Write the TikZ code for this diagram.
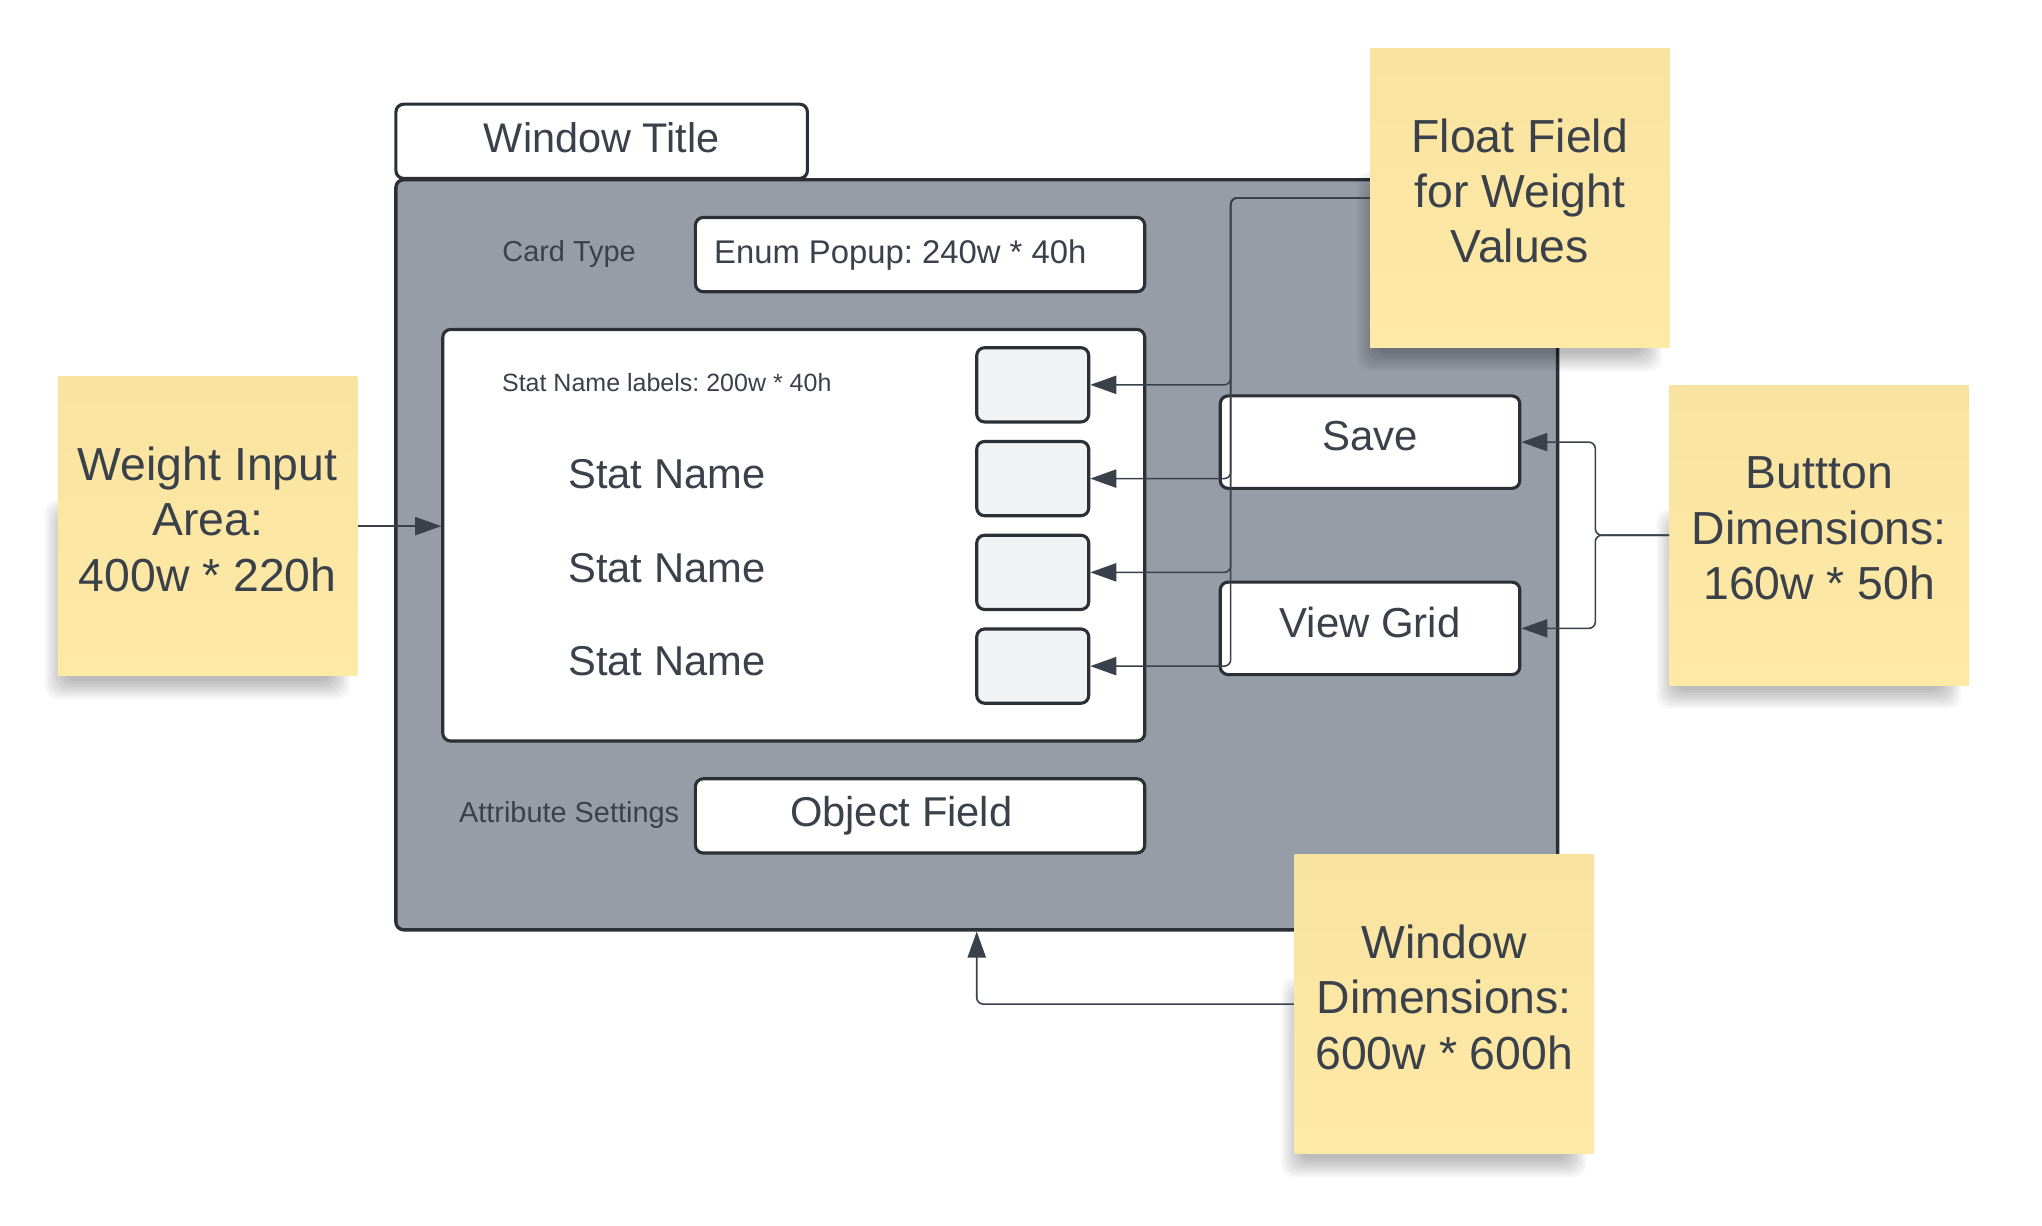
\documentclass[tikz,border=0pt]{standalone}
\usepackage{fontspec}
\setmainfont{Liberation Sans}
\usetikzlibrary{arrows.meta}
\definecolor{ink}{HTML}{3A414A}
\definecolor{edge}{HTML}{2B2F36}
\definecolor{winfill}{HTML}{979DA7}
\definecolor{fieldfill}{HTML}{F1F2F4}
\definecolor{notetop}{HTML}{F8E3A0}
\definecolor{notebot}{HTML}{FEEAA6}
\begin{document}
\frenchspacing
\begin{tikzpicture}[x=0.5pt,y=-0.5pt,
  box/.style={draw=edge, line width=1.2pt, rounded corners=3pt, fill=white, inner sep=0pt},
  fieldbox/.style={box, fill=fieldfill, minimum width=43pt, minimum height=28.5pt},
  btn/.style={box, minimum width=115pt, minimum height=35.5pt, text=ink, text depth=4.5pt, font=\fontsize{16.1pt}{18pt}\selectfont},
  note/.style={minimum width=115pt, minimum height=115pt, top color=notetop, bottom color=notebot, align=center, text=ink, inner sep=0pt, text depth=5.5pt, font=\fontsize{17.8pt}{21.25pt}\selectfont},
  lbl/.style={text=ink, inner sep=0pt},
  big/.style={font=\fontsize{16pt}{18pt}\selectfont},
  small/.style={font=\fontsize{11.1pt}{13pt}\selectfont},
  conn/.style={draw=ink, line width=0.6pt, rounded corners=2.5pt, -{Triangle[length=10pt,width=7pt]}},
  shadowlayer/.style={fill=black, opacity=0.035, rounded corners=5pt},
]
\fill[white] (0,0) rectangle (1568,941);
\useasboundingbox (0,0) rectangle (1568,941);

% main window
\node[draw=edge, line width=1.3pt, fill=winfill, rounded corners=3pt, minimum width=446pt, minimum height=288pt, inner sep=0pt] (window) at (750,426) {};
\node[box, minimum width=158pt, minimum height=28.5pt, text=ink, text depth=3pt, font=\fontsize{15.9pt}{18pt}\selectfont] (title) at (462,108.5) {Window Title};

% card type row
\node[lbl, small] (cardtype) at (437,195) {Card Type};
\node[box, minimum width=172.5pt, minimum height=28.5pt] (enum) at (706.5,195.5) {};
\node[lbl, anchor=west, font=\fontsize{12.6pt}{14pt}\selectfont] (enumtext) at (548,196) {Enum Popup: 240w * 40h};

% weight input area
\node[box, minimum width=269.5pt, minimum height=158pt] (inner) at (609.5,411) {};
\node[lbl, font=\fontsize{9.6pt}{11pt}\selectfont] (statlbl) at (512,294) {Stat Name labels: 200w * 40h};
\node[lbl, big] (stat1) at (512,364) {Stat Name};
\node[lbl, big] (stat2) at (512,436) {Stat Name};
\node[lbl, big] (stat3) at (512,508) {Stat Name};
\node[fieldbox] (f1) at (793,295.5) {};
\node[fieldbox] (f2) at (793,367.5) {};
\node[fieldbox] (f3) at (793,439.5) {};
\node[fieldbox] (f4) at (793,511.5) {};

% buttons
\node[btn] (save) at (1052,339.5) {Save};
\node[btn] (viewgrid) at (1052,482.5) {View Grid};

% attribute row
\node[lbl, small] (attr) at (437,626) {Attribute Settings};
\node[box, minimum width=172.5pt, minimum height=28.5pt] (objfield) at (706.5,626.5) {};
\node[lbl, big] (objtext) at (692,626) {Object Field};

% shadows of sticky notes
\foreach \cx/\cy in {1167/152, 159.5/404, 1397/411, 1109/771}{
  \foreach \i in {0,...,7}{
    \fill[shadowlayer] (\cx-125+2*\i, \cy-20+2*\i) rectangle (\cx+109-2*\i, \cy+133-2*\i);
  }
}

% sticky notes
\node[note] (floatnote) at (1167,152) {Float Field\\for Weight\\Values};
\node[note] (weightnote) at (159.5,404) {Weight Input\\Area:\\400w * 220h};
\node[note] (buttonnote) at (1397,411) {Buttton\\Dimensions:\\160w * 50h};
\node[note] (windownote) at (1109,771) {Window\\Dimensions:\\600w * 600h};

% connectors
\coordinate (fbus) at (945,152);
\foreach \k in {1,...,4}{
  \draw[conn] (floatnote.west) -- (fbus) |- (f\k.east);
}
\coordinate (bbus) at (1225,411);
\draw[conn] (buttonnote.west) -- (bbus) |- (save.east);
\draw[conn] (buttonnote.west) -- (bbus) |- (viewgrid.east);
\draw[conn] (weightnote.east) -- (weightnote.east -| inner.west);
\draw[conn] (windownote.west) -| (window.south);
\end{tikzpicture}
\end{document}
